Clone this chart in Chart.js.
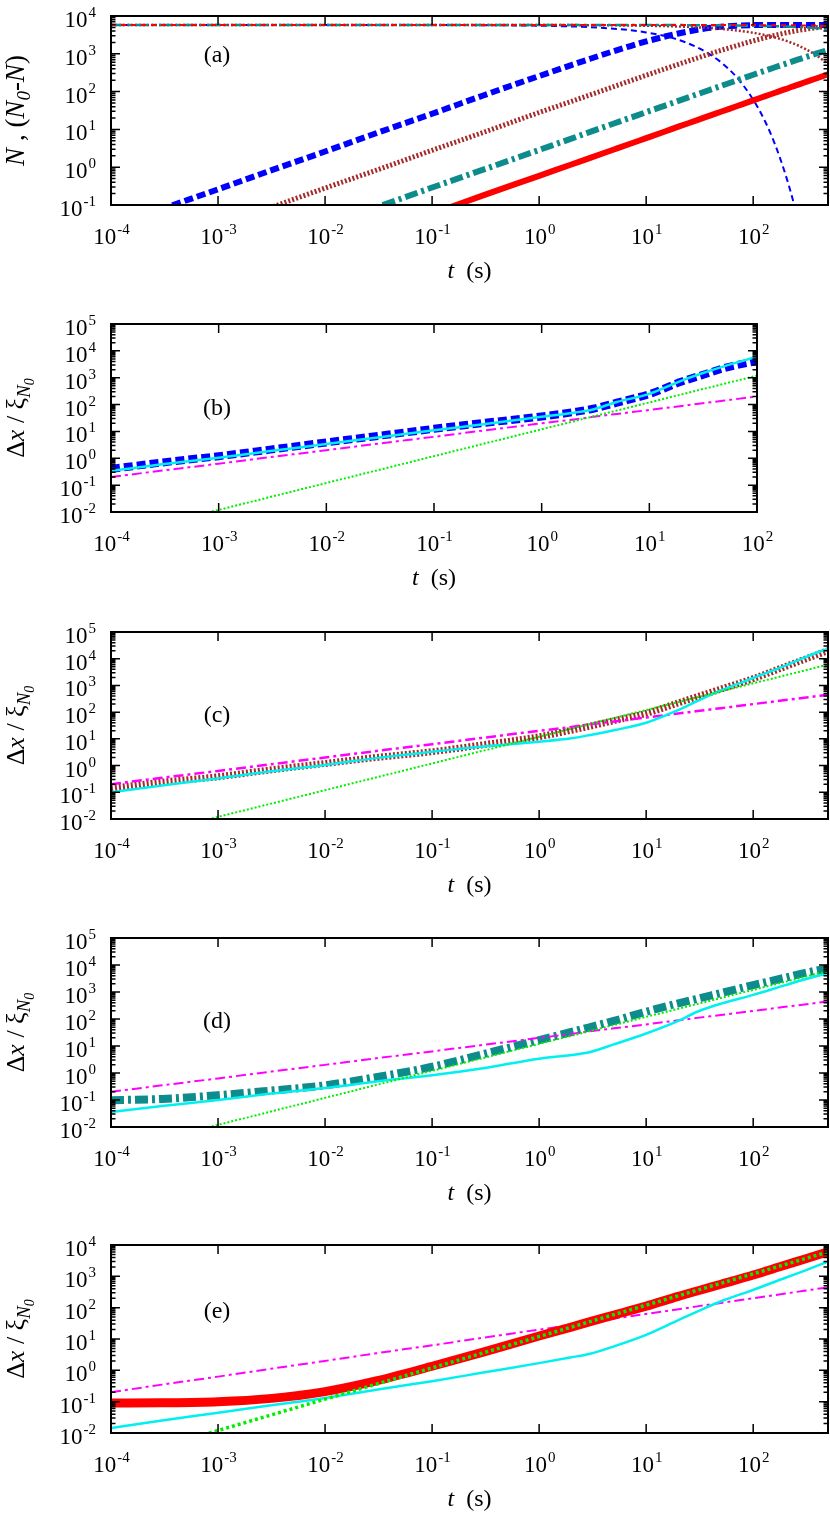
<!DOCTYPE html>
<html>
<head>
<meta charset="utf-8">
<script src="https://cdn.jsdelivr.net/npm/chart.js@4/dist/chart.umd.min.js"></script>
<style>
  html, body { margin: 0; padding: 0; background: #fff; }
  body { width: 830px; height: 1516px; position: relative; overflow: hidden; }
  canvas { position: absolute; left: 0; }
</style>
</head>
<body>
<canvas id="pa" width="830" height="300" style="top:0px"></canvas>
<canvas id="pb" width="830" height="300" style="top:308px"></canvas>
<canvas id="pc" width="830" height="300" style="top:616px"></canvas>
<canvas id="pd" width="830" height="300" style="top:922px"></canvas>
<canvas id="pe" width="830" height="287" style="top:1229px"></canvas>
<script>
// ---- panel (a): N and (N0-N) versus t, four cases ----
const tA = [1e-4, 3e-4, 1e-3, 3e-3, 1e-2, 3e-2, 0.1, 0.3, 1, 2, 3, 5, 7, 10, 15, 20, 30, 40, 50, 70, 100, 130, 160, 200, 230, 260, 300, 400, 500];

const blueN  = [5800, 5800, 5800, 5799, 5797, 5792, 5774, 5721, 5542, 5296, 5061, 4620, 4218, 3676, 2937, 2346, 1487, 941, 597, 241, 61, 15.7, 4.0, 0.65, 0.17, 0.043, 0.007, null, null];
const blueD  = [0.026, 0.079, 0.26, 0.79, 2.6, 7.9, 26, 79, 258, 504, 739, 1180, 1582, 2124, 2863, 3454, 4313, 4859, 5203, 5559, 5739, 5784, 5796, 5799, 5800, 5800, 5800, 5800, 5800];
const brownN = [5800, 5800, 5800, 5800, 5800, 5799, 5797, 5792, 5772, 5745, 5718, 5664, 5610, 5530, 5400, 5273, 5027, 4790, 4567, 4156, 3599, 3120, 2706, 2240, 1937, 1683, 1389, 861, 537];
const brownD = [0.0028, 0.0083, 0.028, 0.083, 0.28, 0.83, 2.8, 8.3, 28, 55, 82, 136, 190, 270, 400, 527, 773, 1010, 1233, 1644, 2201, 2680, 3094, 3560, 3863, 4117, 4411, 4939, 5263];
const tealN  = [5800, 5800, 5800, 5800, 5800, 5800, 5800, 5799, 5797, 5794, 5791, 5786, 5780, 5771, 5757, 5743, 5715, 5687, 5659, 5603, 5521, 5440, 5360, 5256, 5178, 5102, 5004, 4763, 4535];
const tealD  = [0.00029, 0.00086, 0.0029, 0.0086, 0.029, 0.086, 0.29, 0.86, 2.86, 5.7, 8.6, 14.3, 20, 28.5, 42.7, 56.9, 85, 113, 141, 197, 279, 360, 440, 544, 622, 698, 796, 1037, 1265];
const redN   = [5800, 5800, 5800, 5800, 5800, 5800, 5800, 5800, 5799, 5799, 5798, 5797, 5796, 5794, 5791, 5788, 5782, 5776, 5771, 5759, 5741, 5724, 5706, 5684, 5666, 5649, 5626, 5569, 5513];
const redD   = [0.000059, 0.00018, 0.00059, 0.0018, 0.0059, 0.018, 0.059, 0.18, 0.59, 1.18, 1.76, 2.94, 4.12, 5.88, 8.82, 11.8, 17.6, 23.5, 29.3, 41, 58.4, 75.9, 93.4, 116, 134, 151, 174, 229, 287];

// ---- panels (b)-(e): dx / xi_N0 versus t ----
const tLong = [1e-4, 3e-4, 1e-3, 3e-3, 1e-2, 3e-2, 0.1, 0.3, 1, 2, 3, 5, 10, 20, 30, 50, 100, 200, 300, 500];

const sqrtFit = [0.2, 0.35, 0.63, 1.1, 2.0, 3.5, 6.3, 11, 20, 28, 35, 45, 63, 89, 110, 141, 200, 283, 346, 447];
const linFit  = [0.0012, 0.0036, 0.012, 0.036, 0.12, 0.36, 1.2, 3.6, 12, 24, 36, 60, 120, 240, 360, 600, 1200, 2400, 3600, 6000];

const bBlue  = [0.4, 0.7, 1.2, 2.1, 3.9, 6.8, 12.5, 21, 36, 53, 70, 118, 245, 720, 1200, 2300, 4200];
const bCyan  = [0.34, 0.6, 1.05, 1.85, 3.4, 6.0, 11, 19, 35, 50, 66, 125, 250, 780, 1400, 2700, 6000];
const cBrown = [0.14, 0.24, 0.38, 0.68, 1.2, 2.0, 3.3, 6.0, 12, 21, 30, 48, 90, 222, 378, 730, 1800, 5100, 9400, 20000];
const cCyan  = [0.1, 0.18, 0.33, 0.6, 1.05, 1.9, 3.3, 5.2, 7.8, 10.5, 14, 21, 40, 120, 260, 650, 1900, 5500, 11000, 24000];
const dTeal  = [0.098, 0.11, 0.15, 0.22, 0.35, 0.7, 1.7, 5, 16.6, 33, 50, 85, 186, 380, 560, 920, 1800, 3400, 5000, 7600];
const dCyan  = [0.036, 0.06, 0.10, 0.17, 0.28, 0.48, 0.83, 1.5, 3.4, 4.6, 6.0, 11.5, 29, 85, 186, 370, 780, 1800, 2900, 5000];
const eRed   = [0.09, 0.092, 0.1, 0.125, 0.21, 0.46, 1.35, 3.8, 12.5, 24, 36, 58, 112, 230, 340, 560, 1100, 2300, 3500, 6100];
const eCyan  = [0.0145, 0.025, 0.044, 0.075, 0.13, 0.24, 0.45, 0.85, 1.7, 2.6, 3.4, 5.8, 13.5, 40, 75, 160, 370, 900, 1500, 2950];

const SERIF = '"Liberation Serif", "Times New Roman", serif';
const BLUE = '#0000ff', BROWN = '#a52a2a', TEAL = '#0e8c8c', RED = '#ff0000';
const CYAN = '#00f0f0', MAGENTA = '#ff00ff', GREEN = '#00ee00';
const DASH = [6, 4], DOT = [2, 2], DASHDOT = [13, 4, 3, 4];

const line = (t, values, color, width, dash) => ({
  data: t.map((x, i) => ({ x, y: values[i] === undefined ? null : values[i] })),
  borderColor: color,
  borderWidth: width,
  borderDash: dash || [],
  fill: false
});

// text runs, centred on cx, baseline at cy
function drawRuns(ctx, runs, cx, cy) {
  let total = 0;
  runs.forEach(r => { ctx.font = r.font; r.w = ctx.measureText(r.text).width; total += r.w; });
  let x = cx - total / 2;
  ctx.textAlign = 'left';
  ctx.textBaseline = 'alphabetic';
  runs.forEach(r => { ctx.font = r.font; ctx.fillText(r.text, x, cy + (r.dy || 0)); x += r.w; });
}

function drawPow(ctx, exp, x, y, align) {
  ctx.font = '23px ' + SERIF;
  const wb = ctx.measureText('10').width;
  ctx.font = '15px ' + SERIF;
  const ws = ctx.measureText(String(exp)).width;
  const x0 = align === 'center' ? x - (wb + ws) / 2 : x - (wb + ws);
  ctx.textAlign = 'left';
  ctx.textBaseline = 'alphabetic';
  ctx.font = '23px ' + SERIF;
  ctx.fillText('10', x0, y);
  ctx.font = '15px ' + SERIF;
  ctx.fillText(String(exp), x0 + wb + 1, y - 10);
}

const it = (px) => 'italic ' + px + 'px ' + SERIF;
const rm = (px) => px + 'px ' + SERIF;
const titleN = [
  { text: 'N', font: it(27) }, { text: ' , (', font: rm(27) }, { text: 'N', font: it(27) },
  { text: '0', font: it(19), dy: 6 }, { text: '-', font: it(27) }, { text: 'N', font: it(27) },
  { text: ')', font: rm(27) }
];
const titleDx = [
  { text: 'Δ', font: rm(26) }, { text: 'x', font: it(26) }, { text: ' / ξ', font: rm(26) },
  { text: 'N', font: it(19), dy: 6 }, { text: '0', font: it(14), dy: 10 }
];

// frame, inward ticks, power-of-ten labels, axis titles
const framePlugin = {
  id: 'frame',
  afterDraw(chart, args, opts) {
    const { ctx, chartArea: a, scales: { x, y } } = chart;
    ctx.save();
    ctx.strokeStyle = '#000';
    ctx.fillStyle = '#000';
    ctx.lineWidth = 1.5;
    ctx.beginPath();
    const xe0 = Math.round(Math.log10(x.min)), xe1 = Math.floor(Math.log10(x.max) + 1e-9);
    for (let e = xe0; e <= xe1; e++) {
      const px = x.getPixelForValue(Math.pow(10, e));
      ctx.moveTo(px, a.bottom); ctx.lineTo(px, a.bottom - 9);
      ctx.moveTo(px, a.top); ctx.lineTo(px, a.top + 9);
    }
    const ye0 = Math.round(Math.log10(y.min)), ye1 = Math.round(Math.log10(y.max));
    for (let e = ye0; e <= ye1; e++) {
      for (let m = 1; m <= 9; m++) {
        const v = m * Math.pow(10, e);
        if (v > y.max * 1.0001) break;
        const py = y.getPixelForValue(v);
        const len = m === 1 ? 9 : 4.5;
        ctx.moveTo(a.left, py); ctx.lineTo(a.left + len, py);
        ctx.moveTo(a.right, py); ctx.lineTo(a.right - len, py);
      }
    }
    ctx.stroke();
    ctx.lineWidth = 2;
    ctx.strokeRect(a.left, a.top, a.right - a.left, a.bottom - a.top);

    for (let e = xe0; e <= xe1; e++) drawPow(ctx, e, x.getPixelForValue(Math.pow(10, e)), a.bottom + 39, 'center');
    for (let e = ye0; e <= ye1; e++) drawPow(ctx, e, a.left - 16, y.getPixelForValue(Math.pow(10, e)) + 11, 'right');

    drawRuns(ctx, [{ text: 't', font: it(24) }, { text: '  (s)', font: rm(24) }], (a.left + a.right) / 2, a.bottom + 73);
    drawRuns(ctx, [{ text: opts.tag, font: rm(24) }], a.left + 106, a.top + opts.tagDy);

    ctx.translate(24, (a.top + a.bottom) / 2);
    ctx.rotate(-Math.PI / 2);
    drawRuns(ctx, opts.ytitle, 0, 0);
    ctx.restore();
  }
};

function makePanel(id, datasets, p) {
  return new Chart(document.getElementById(id), {
    type: 'line',
    data: { datasets },
    plugins: [framePlugin],
    options: {
      responsive: false,
      animation: false,
      layout: { padding: { top: 16, right: p.padRight, left: 0, bottom: 0 } },
      elements: { point: { radius: 0 }, line: { borderCapStyle: 'butt', cubicInterpolationMode: 'monotone' } },
      plugins: {
        legend: { display: false },
        tooltip: { enabled: false },
        frame: { tag: p.tag, tagDy: p.tagDy, ytitle: p.ytitle }
      },
      scales: {
        x: {
          type: 'logarithmic', min: 1e-4, max: p.xMax,
          ticks: { display: false }, grid: { display: false }, border: { display: false },
          afterFit: s => { s.height = p.bottomSpace; }
        },
        y: {
          type: 'logarithmic', min: p.yMin, max: p.yMax,
          ticks: { display: false }, grid: { display: false }, border: { display: false },
          afterFit: s => { s.width = 111; }
        }
      }
    }
  });
}

// first dataset is drawn on top
makePanel('pa', [
  line(tA, redN, RED, 2, [5, 5]),
  line(tA, redD, RED, 6),
  line(tA, tealN, TEAL, 2.5, DASHDOT),
  line(tA, tealD, TEAL, 6, DASHDOT),
  line(tA, brownN, BROWN, 2.5, DOT),
  line(tA, brownD, BROWN, 5, DOT),
  line(tA, blueN, BLUE, 2, DASH),
  line(tA, blueD, BLUE, 6, [9, 4])
], { tag: '(a)', tagDy: 46, ytitle: titleN, xMax: 500, yMin: 0.1, yMax: 1e4, padRight: 2, bottomSpace: 95 });

makePanel('pb', [
  line(tLong, bCyan, CYAN, 2.5),
  line(tLong, linFit, GREEN, 2, DOT),
  line(tLong, sqrtFit, MAGENTA, 2, [10, 4, 3, 4]),
  line(tLong, bBlue, BLUE, 8, [9, 4])
], { tag: '(b)', tagDy: 91, ytitle: titleDx, xMax: 100, yMin: 0.01, yMax: 1e5, padRight: 73, bottomSpace: 96 });

makePanel('pc', [
  line(tLong, linFit, GREEN, 2, DOT),
  line(tLong, cCyan, CYAN, 2.5),
  line(tLong, sqrtFit, MAGENTA, 2.5, [10, 4, 3, 4]),
  line(tLong, cBrown, BROWN, 7, DOT)
], { tag: '(c)', tagDy: 90, ytitle: titleDx, xMax: 500, yMin: 0.01, yMax: 1e5, padRight: 2, bottomSpace: 97 });

makePanel('pd', [
  line(tLong, linFit, GREEN, 2, DOT),
  line(tLong, dCyan, CYAN, 2.5),
  line(tLong, sqrtFit, MAGENTA, 2, [10, 4, 3, 4]),
  line(tLong, dTeal, TEAL, 8, DASHDOT)
], { tag: '(d)', tagDy: 90, ytitle: titleDx, xMax: 500, yMin: 0.01, yMax: 1e5, padRight: 2, bottomSpace: 95 });

makePanel('pe', [
  line(tLong, linFit, GREEN, 3.5, [3, 3]),
  line(tLong, eCyan, CYAN, 2.5),
  line(tLong, eRed, RED, 9),
  line(tLong, sqrtFit, MAGENTA, 2, [10, 4, 3, 4])
], { tag: '(e)', tagDy: 73, ytitle: titleDx, xMax: 500, yMin: 0.01, yMax: 1e4, padRight: 2, bottomSpace: 83 });
</script>
</body>
</html>
